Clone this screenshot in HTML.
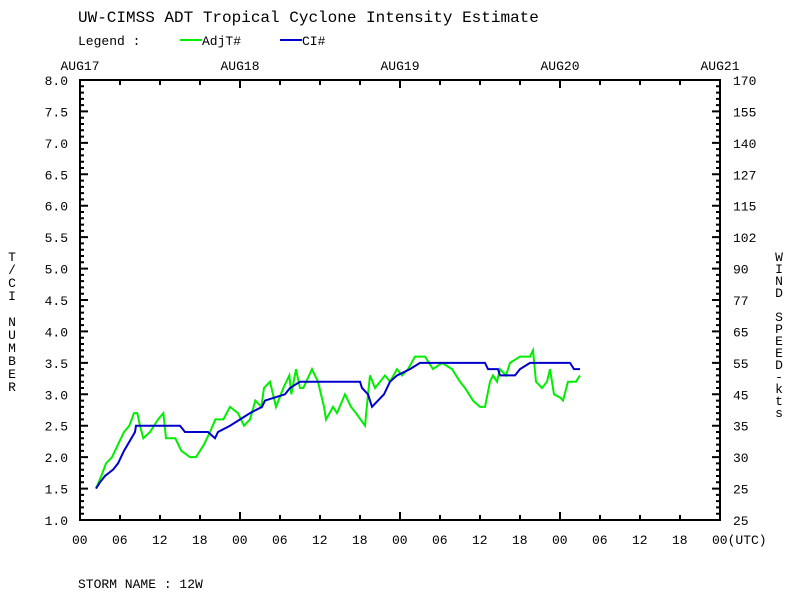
<!DOCTYPE html>
<html><head><meta charset="utf-8"><style>
body{margin:0;background:#fff;}
svg text{font-family:"Liberation Mono",monospace;font-size:13px;fill:#000;}
</style></head><body>
<svg width="800" height="600" xmlns="http://www.w3.org/2000/svg">
<rect width="800" height="600" fill="#fff"/>
<text x="78" y="22" style="font-size:16px">UW-CIMSS ADT Tropical Cyclone Intensity Estimate</text>
<g>
<text x="78" y="45">Legend :</text>
<line x1="180" y1="40" x2="202" y2="40" stroke="#00ee00" stroke-width="2"/>
<text x="202" y="45">AdjT#</text>
<line x1="280" y1="40" x2="302" y2="40" stroke="#0000cc" stroke-width="2"/>
<text x="302" y="45">CI#</text>
</g>
<rect x="80" y="80" width="640" height="440" fill="none" stroke="#000" stroke-width="2"/>
<g id="axes"></g>
<g id="series"></g>
<text x="12" y="250" style="writing-mode:vertical-lr;text-orientation:upright;letter-spacing:-2px">T/CI NUMBER</text>
<text x="779" y="250" style="writing-mode:vertical-lr;text-orientation:upright;letter-spacing:-3px">WIND SPEED-kts</text>
<text x="78" y="588">STORM NAME : 12W</text>
</svg>
<script>
const dayLabels=["AUG17","AUG18","AUG19","AUG20","AUG21"];
const hourLabels=["00","06","12","18"];
const leftTicks=["1.0","1.5","2.0","2.5","3.0","3.5","4.0","4.5","5.0","5.5","6.0","6.5","7.0","7.5","8.0"];
const rightTicks=["25","25","30","35","45","55","65","77","90","102","115","127","140","155","170"];
const adjtHours=[2.4,3.2,3.9,4.8,5.7,6.6,7.4,8.1,8.6,9,9.5,10.5,11.7,12.5,12.9,14.3,15.2,16.5,17.4,18.6,19.5,20.3,21.5,22.5,23.7,24.6,25.5,26.3,27.2,27.6,28.5,29.4,30.5,31.4,31.7,32.4,33,33.5,34.8,35.7,36.6,36.9,37.95,38.55,39.75,40.65,41.4,42.75,43.2,43.5,44.25,45,45.75,46.5,47.55,48.3,49.2,50.25,51.75,52.95,54.3,55.8,57,57.75,58.95,60,60.75,61.5,61.95,62.55,63,63.9,64.5,66,67.5,67.95,68.4,69.3,70.05,70.5,71.1,72,72.45,73.2,74.4,75]; 
const adjtVals=[1.5,1.7,1.9,2.0,2.2,2.4,2.5,2.7,2.7,2.5,2.3,2.4,2.6,2.7,2.3,2.3,2.1,2.0,2.0,2.2,2.4,2.6,2.6,2.8,2.7,2.5,2.6,2.9,2.8,3.1,3.2,2.8,3.1,3.3,3.0,3.4,3.1,3.1,3.4,3.2,2.8,2.6,2.8,2.7,3.0,2.8,2.7,2.5,3.0,3.3,3.1,3.2,3.3,3.2,3.4,3.3,3.4,3.6,3.6,3.4,3.5,3.4,3.2,3.1,2.9,2.8,2.8,3.2,3.3,3.2,3.4,3.3,3.5,3.6,3.6,3.7,3.2,3.1,3.2,3.4,3.0,2.95,2.9,3.2,3.2,3.3];
const ciHours=[2.4,3,3.75,4.95,5.7,6.6,8.25,8.4,15,15.75,19.2,20.25,20.7,22.5,25.5,27.3,27.75,30.75,31.5,33,42,42.3,43.2,43.8,44.7,45.6,46.5,47.55,49.5,51,60.75,61.2,62.7,63,65.25,66,67.5,73.5,74.1,75];
const ciVals=[1.5,1.6,1.7,1.8,1.9,2.1,2.4,2.5,2.5,2.4,2.4,2.3,2.4,2.5,2.7,2.8,2.9,3.0,3.1,3.2,3.2,3.1,3.0,2.8,2.9,3.0,3.2,3.3,3.4,3.5,3.5,3.4,3.4,3.3,3.3,3.4,3.5,3.5,3.4,3.4];
const NS="http://www.w3.org/2000/svg";
const X0=80,X1=720,Y0=520,Y1=80;
function xs(h){return X0+h*(X1-X0)/96;}
function ys(v){return Y0-(v-1)*(Y0-Y1)/7;}
function mk(t,a,p){const e=document.createElementNS(NS,t);for(const k in a)e.setAttribute(k,a[k]);p.appendChild(e);return e;}
const ax=document.getElementById('axes');
let d="";
for(let i=0;i<=70;i++){const v=1+i*0.1,y=ys(v),L=(i%5==0)?8:4;d+=`M${X0} ${y}h${L}M${X1} ${y}h${-L}`;}
for(let h=0;h<=96;h+=6){const x=xs(h),L=(h%24==0)?8:5;d+=`M${x} ${Y1}v${L}M${x} ${Y0}v${-L}`;}
const tk=mk('path',{d:d,stroke:'#000','stroke-width':2,fill:'none'},ax);


leftTicks.forEach((s,i)=>{const t=mk('text',{x:68,y:ys(parseFloat(s))+5,'text-anchor':'end'},ax);t.textContent=s;

});
rightTicks.forEach((s,i)=>{const t=mk('text',{x:733,y:ys(1+i*0.5)+5},ax);t.textContent=s;

});
dayLabels.forEach((s,i)=>{const t=mk('text',{x:xs(i*24),y:70,'text-anchor':'middle'},ax);t.textContent=s;

});
for(let h=0;h<=96;h+=6){const s=hourLabels[(h/6)%4]+(h==96?"(UTC)":"");const t=mk('text',{x:xs(h)-8,y:544},ax);t.textContent=s;

}
const sg=document.getElementById('series');
function line(hs,vs,c,n){const p=mk('polyline',{points:hs.map((h,i)=>xs(h)+','+ys(vs[i])).join(' '),fill:'none',stroke:c,'stroke-width':2},sg);

}
line(adjtHours,adjtVals,'#00ee00','adjt-line');
line(ciHours,ciVals,'#0000cc','ci-line');
</script>
</body></html>
